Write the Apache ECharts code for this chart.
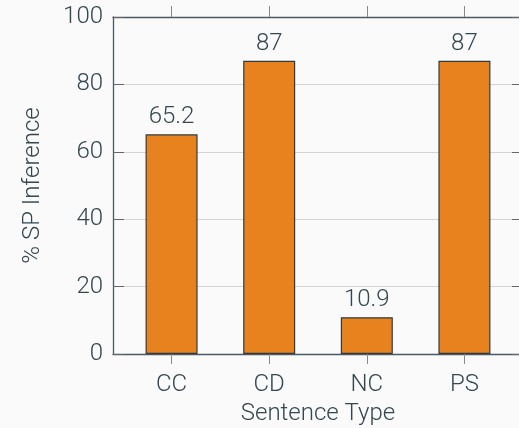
<!DOCTYPE html>
<html>
<head>
<meta charset="utf-8">
<script src="https://cdn.jsdelivr.net/npm/echarts@6/dist/echarts.min.js"></script>
<style>
html, body { margin: 0; padding: 0; background: #fafafa; }
#chart { width: 519px; height: 428px; }
</style>
</head>
<body>
<div id="chart"></div>
<script>
// 数据
var categories = ['CC', 'CD', 'NC', 'PS'];
var values = [65.2, 87, 10.9, 87];
var yTicks = [0, 20, 40, 60, 80, 100];

var textColor = '#34464f';
var lineColor = '#4b5a62';
var font = 'Roboto, "Open Sans", sans-serif';
var fw = 300;
var fs = 24;

var barData = [];
for (var i = 0; i < values.length; i++) {
    barData.push([i, values[i]]);
}
var catPos = categories.map(function (c, i) { return i; });

var myChart = echarts.init(document.getElementById('chart'));
myChart.setOption({
    backgroundColor: '#fafafa',
    animation: false,
    grid: { left: 113, right: -4, top: 17, bottom: 74, containLabel: false, outerBoundsMode: 'none' },
    xAxis: [{
        type: 'value',
        min: -0.6,
        max: 3.6,
        position: 'bottom',
        name: 'Sentence Type',
        nameLocation: 'middle',
        nameGap: 43,
        nameTextStyle: { color: textColor, fontSize: fs, fontFamily: font, fontWeight: fw },
        axisLine: { show: true, onZero: false, lineStyle: { color: lineColor, width: 1.3 } },
        axisTick: { show: true, inside: false, length: 10, customValues: catPos, lineStyle: { color: '#888' } },
        axisLabel: {
            customValues: catPos,
            margin: 19,
            color: textColor, fontSize: fs, fontFamily: font, fontWeight: fw,
            formatter: function (v) { return categories[Math.round(v)]; }
        },
        splitLine: { show: false }
    }, {
        type: 'value',
        min: -0.6,
        max: 3.6,
        position: 'top',
        axisLine: { show: true, onZero: false, lineStyle: { color: lineColor, width: 1.3 } },
        axisTick: { show: true, inside: false, length: 11, customValues: catPos, lineStyle: { color: '#888' } },
        axisLabel: { show: false },
        splitLine: { show: false }
    }],
    yAxis: [{
        type: 'value',
        min: 0,
        max: 100,
        interval: 20,
        position: 'left',
        name: '% SP Inference',
        nameLocation: 'middle',
        nameGap: 68,
        nameTextStyle: { color: textColor, fontSize: fs, fontFamily: font, fontWeight: fw },
        axisLine: { show: true, onZero: false, lineStyle: { color: lineColor, width: 1.3 } },
        axisTick: { show: true, inside: true, length: 11, lineStyle: { color: '#666' } },
        axisLabel: {
            margin: 10, color: textColor, fontSize: fs, fontFamily: font, fontWeight: fw,
            formatter: function (v) { return yTicks.indexOf(v) >= 0 ? String(v) : ''; }
        },
        splitLine: { show: true, lineStyle: { color: '#d4d4d4', width: 1 } }
    }, {
        type: 'value',
        min: 0,
        max: 100,
        interval: 20,
        position: 'right',
        axisLine: { show: true, onZero: false, lineStyle: { color: lineColor, width: 1.3 } },
        axisTick: { show: true, inside: true, length: 11, lineStyle: { color: '#666' } },
        axisLabel: { show: false },
        splitLine: { show: false }
    }],
    series: [{
        type: 'bar',
        xAxisIndex: 0,
        yAxisIndex: 0,
        barWidth: 52,
        data: barData,
        itemStyle: { color: '#e8821e', borderColor: '#2f3b42', borderWidth: 1.2 },
        label: {
            show: true,
            position: 'top',
            distance: 5,
            color: textColor,
            fontSize: fs,
            fontFamily: font,
            fontWeight: fw,
            formatter: function (p) { return String(p.value[1]); }
        }
    }]
});
</script>
</body>
</html>
